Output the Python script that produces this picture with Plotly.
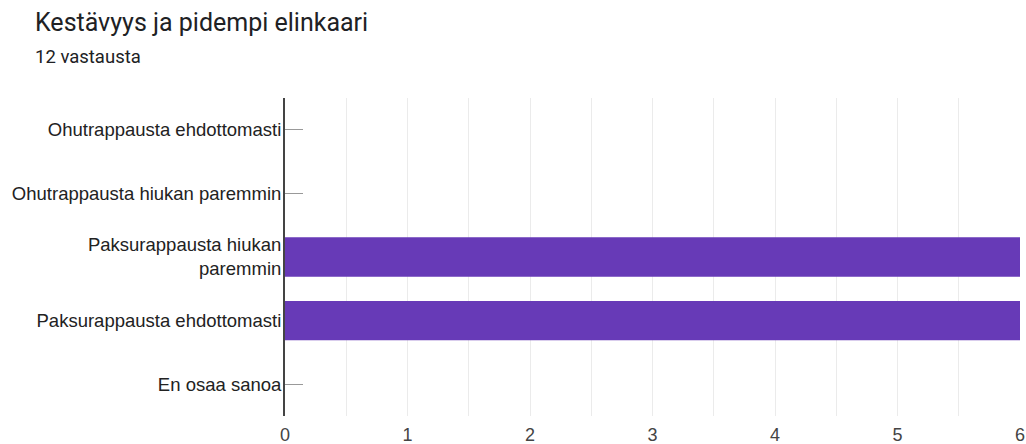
import plotly.graph_objects as go

categories = [
    "Ohutrappausta ehdottomasti",
    "Ohutrappausta hiukan paremmin",
    "Paksurappausta hiukan<br>paremmin",
    "Paksurappausta ehdottomasti",
    "En osaa sanoa",
]
values = [0, 0, 6, 6, 0]
x_ticks = [0, 1, 2, 3, 4, 5, 6]
title = "Kestävyys ja pidempi elinkaari"
subtitle = "12 vastausta"

W, H = 1026, 444
l, r, t, b = 285, 6, 98, 28

fig = go.Figure()
fig.add_trace(go.Bar(
    y=categories, x=values, orientation="h",
    marker=dict(color="#673ab7", line=dict(width=0)),
    width=0.62, hoverinfo="x+y",
))

fig.update_layout(
    width=W, height=H,
    margin=dict(l=l, r=r, t=t, b=b, autoexpand=False),
    paper_bgcolor="white", plot_bgcolor="white",
    showlegend=False,
    font=dict(family="Arial, Liberation Sans, sans-serif", color="#222"),
    xaxis=dict(
        range=[0, 6], tickvals=x_ticks, ticktext=[str(v) for v in x_ticks],
        showgrid=True, gridcolor="#ebebeb", gridwidth=1,
        minor=dict(dtick=0.5, showgrid=True, gridcolor="#ebebeb"),
        zeroline=False, showline=False,
        tickfont=dict(size=18, color="#444", family="Arial, Liberation Sans, sans-serif"),
        ticks="", ticklabelstandoff=6, automargin=False,
        fixedrange=True,
    ),
    yaxis=dict(
        autorange="reversed",
        categoryorder="array", categoryarray=categories,
        showline=True, linecolor="#444", linewidth=2,
        ticks="inside", ticklen=18, tickcolor="#999", tickwidth=1,
        tickfont=dict(size=18.5, color="#222", family="Arial, Liberation Sans, sans-serif"),
        showgrid=False, zeroline=False, layer="below traces",
        ticklabelstandoff=-2, automargin=False,
        fixedrange=True,
    ),
)

pw, ph = W - l - r, H - t - b
def px(xp):
    return (xp - l) / pw
def py(yp):
    return (H - b - yp) / ph

fig.add_annotation(text=title, x=px(33), y=py(22), xref="paper", yref="paper",
                   xanchor="left", yanchor="middle", showarrow=False,
                   font=dict(size=25, color="#202124", family="Roboto, Arial, sans-serif"))
fig.add_annotation(text=subtitle, x=px(33), y=py(57), xref="paper", yref="paper",
                   xanchor="left", yanchor="middle", showarrow=False,
                   font=dict(size=18.5, color="#202124", family="Roboto, Arial, sans-serif"))

fig.write_html("out.html")
